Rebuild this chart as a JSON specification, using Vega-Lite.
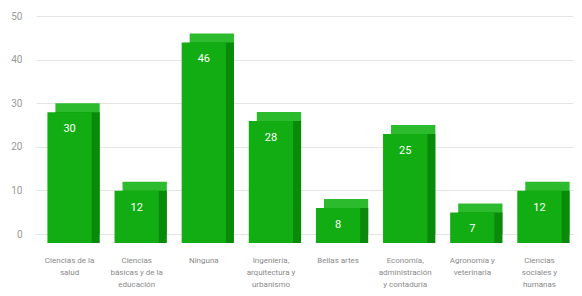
{
  "$schema": "https://vega.github.io/schema/vega-lite/v6.json",
  "width": 537,
  "height": 218,
  "autosize": {"type": "none"},
  "padding": {"left": 36, "top": 16, "right": 9, "bottom": 62},
  "background": "white",
  "config": {"view": {"stroke": null}, "font": "Roboto"},
  "data": {
    "values": [
      {"area": "Ciencias de la|salud", "n": 30},
      {"area": "Ciencias|básicas y de la|educación", "n": 12},
      {"area": "Ninguna", "n": 46},
      {"area": "Ingeniería,|arquitectura y|urbanismo", "n": 28},
      {"area": "Bellas artes", "n": 8},
      {"area": "Economía,|administración|y contaduría", "n": 25},
      {"area": "Agronomía y|veterinaria", "n": 7},
      {"area": "Ciencias|sociales y|humanas", "n": 12}
    ]
  },
  "encoding": {
    "x": {
      "field": "area", "type": "nominal", "sort": null,
      "scale": {"paddingInner": 0.34, "paddingOuter": 0.17},
      "axis": {
        "title": null, "domain": false, "ticks": false, "labelAngle": 0,
        "labelExpr": "split(datum.label, '|')",
        "labelPadding": 22, "labelFontSize": 8, "labelColor": "#8a8a8a",
        "labelLineHeight": 12, "labelBaseline": "top"
      }
    },
    "y": {
      "field": "n", "type": "quantitative",
      "scale": {"domain": [0, 50], "nice": false},
      "axis": {
        "title": null, "domain": false, "ticks": false, "values": [0, 10, 20, 30, 40, 50],
        "labelPadding": 14, "labelFontSize": 10, "labelColor": "#9a9a9a",
        "gridColor": "#e4e4e4"
      }
    }
  },
  "layer": [
    {"mark": {"type": "bar", "color": "#2cbb2c", "xOffset": 8}},
    {"mark": {"type": "bar", "color": "#0a8a0a", "xOffset": 8, "yOffset": 9}},
    {"mark": {"type": "bar", "color": "#12ad12", "yOffset": 9}},
    {
      "mark": {"type": "text", "color": "white", "fontSize": 11, "baseline": "middle", "yOffset": 26},
      "encoding": {"text": {"field": "n", "type": "quantitative"}}
    }
  ]
}
